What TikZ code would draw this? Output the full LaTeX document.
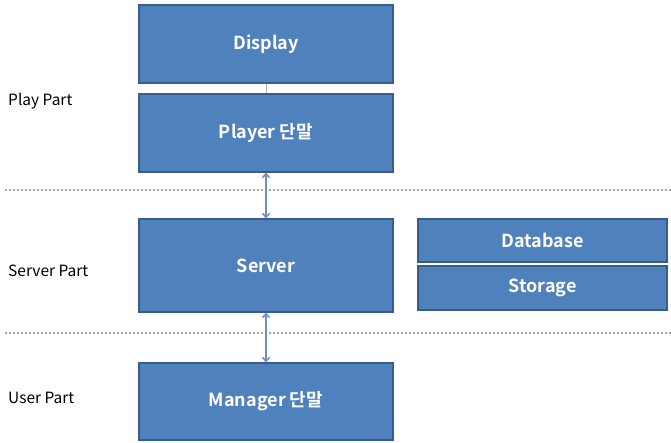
\documentclass[tikz,border=0pt]{standalone}
\usepackage{fontspec}
\setmainfont{Noto Sans CJK KR}
\newfontfamily\boxfont{Noto Sans CJK KR Bold}
\usetikzlibrary{arrows.meta}
\definecolor{boxblue}{HTML}{4F81BD}
\definecolor{boxedge}{HTML}{385D8A}
\definecolor{arrowblue}{HTML}{6E8FBF}
\tikzset{
  blockbox/.style={draw=boxedge, line width=1.2pt, fill=boxblue, text=white, font=\boxfont\fontsize{18}{21}\selectfont, inner sep=0pt},
  partlabel/.style={anchor=west, font=\fontsize{15.5}{18}\selectfont, text=black, inner sep=0pt},
  sepline/.style={draw=gray!70, line width=1.5pt, dash pattern=on 2pt off 2pt},
  linkarrow/.style={draw=arrowblue, line width=1.5pt, {Straight Barb[length=4pt,width=7pt]}-{Straight Barb[length=4pt,width=7pt]}}
}
\begin{document}
\begin{tikzpicture}[x=1pt,y=-1pt]
\useasboundingbox (0,0) rectangle (671,443);
% separators
\coordinate (s1a) at (5,190);
\coordinate (s1b) at (671,190);
\coordinate (s2a) at (5,333);
\coordinate (s2b) at (671,333);
\draw[sepline] (s1a) -- (s1b);
\draw[sepline] (s2a) -- (s2b);
% boxes
\node[blockbox, minimum width=254pt, minimum height=78pt] (display) at (266,44) {Display};
\node[blockbox, minimum width=254pt, minimum height=78pt] (player) at (266,133) {Player 단말};
\node[blockbox, minimum width=254pt, minimum height=93pt] (server) at (266,265.5) {Server};
\node[blockbox, minimum width=249pt, minimum height=43pt] (database) at (542.5,240.5) {Database};
\node[blockbox, minimum width=249pt, minimum height=44pt] (storage) at (542.5,288) {Storage};
\node[blockbox, minimum width=254pt, minimum height=77pt] (manager) at (266,401.5) {Manager 단말};
% labels
\node[partlabel] (lplay) at (8,101) {Play Part};
\node[partlabel] (lserver) at (8,271) {Server Part};
\node[partlabel] (luser) at (8,398) {User Part};
% connectors
\draw[draw=gray!60, line width=1pt] (display) -- (player);
\draw[linkarrow] (player.south) -- (server.north);
\draw[linkarrow] (server.south) -- (manager.north);
\end{tikzpicture}
\end{document}
